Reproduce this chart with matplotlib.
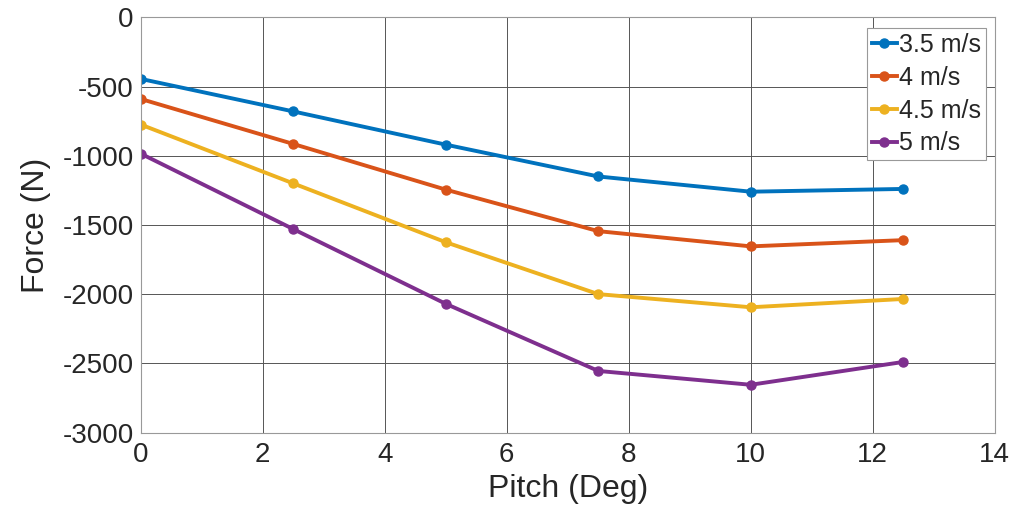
import matplotlib
matplotlib.use("Agg")
import matplotlib.pyplot as plt

plt.rcParams['font.family'] = ['Liberation Sans', 'DejaVu Sans']
plt.rcParams['axes.unicode_minus'] = False
plt.rcParams['text.color'] = '#262626'
plt.rcParams['axes.labelcolor'] = '#262626'
plt.rcParams['xtick.color'] = '#262626'
plt.rcParams['ytick.color'] = '#262626'

pitch = [0, 2.5, 5, 7.5, 10, 12.5]
labels = ["3.5 m/s", "4 m/s", "4.5 m/s", "5 m/s"]
f35 = [-445, -680, -920, -1150, -1260, -1240]
f40 = [-590, -915, -1245, -1545, -1655, -1610]
f45 = [-775, -1200, -1625, -2000, -2095, -2035]
f50 = [-985, -1530, -2070, -2555, -2655, -2490]
colors = ["#0072BD", "#D95319", "#EDB120", "#7E2F8E"]

fig = plt.figure(figsize=(10.14, 5.18), dpi=100)
ax = fig.add_axes([0.1388, 0.165, 0.981 - 0.1388, 0.9666 - 0.165])
for ys, lab, c in zip([f35, f40, f45, f50], labels, colors):
    ax.plot(pitch, ys, '-o', color=c, lw=2.8, ms=6.5, label=lab)

ax.set_xlim(0, 14)
ax.set_ylim(-3000, 0)
ax.set_xticks(range(0, 15, 2))
ax.set_yticks(range(-3000, 1, 500))
ax.grid(True, color='#555555', lw=0.7)
ax.set_axisbelow(True)
for s in ax.spines.values():
    s.set_color('#999999')
ax.tick_params(labelsize=20, length=0, pad=5)
ax.tick_params(axis='x', pad=7)
ax.set_xlabel("Pitch (Deg)", fontsize=23, labelpad=4)
ax.set_ylabel("Force (N)", fontsize=23, labelpad=8)
leg = ax.legend(loc='upper right', bbox_to_anchor=(986 / 1014, 1 - 28 / 518),
                bbox_transform=fig.transFigure, fontsize=18, handlelength=1.0,
                handletextpad=0.1, borderaxespad=0, borderpad=0.2,
                labelspacing=0.35, fancybox=False, framealpha=1,
                edgecolor='#999999')
leg.get_frame().set_linewidth(0.8)
fig.savefig("out.png", dpi=100)
